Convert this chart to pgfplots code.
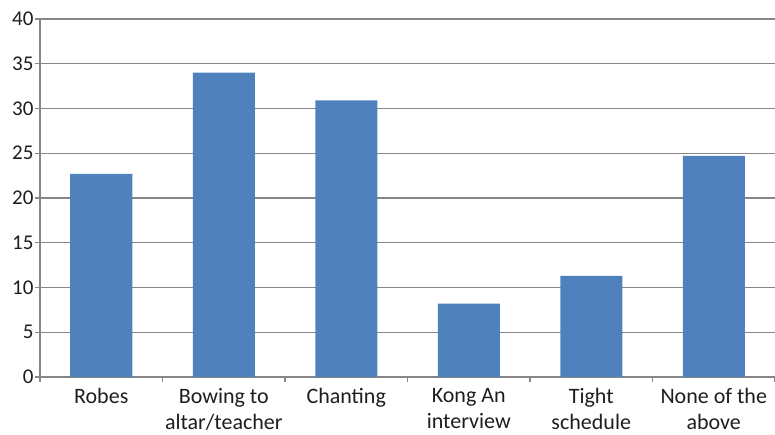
\documentclass[border=0pt]{standalone}
\usepackage{fontspec}
\setmainfont{Carlito}
\usepackage{pgfplots}
\pgfplotsset{compat=1.18}
\definecolor{barblue}{RGB}{79,129,189}
\definecolor{gridgray}{RGB}{134,134,134}
\definecolor{txt}{RGB}{30,30,30}
\begin{document}
\begin{tikzpicture}
\path[use as bounding box] (-40pt,-58pt) rectangle (735pt,377pt);
\begin{axis}[
  scale only axis,
  width=735pt, height=358pt,
  xmin=-0.5, xmax=5.5,
  ymin=0, ymax=40,
  ytick={0,5,...,40},
  xtick={0,1,2,3,4,5},
  xticklabels={Robes,{Bowing to\\altar/teacher},Chanting,{Kong An\\interview},{Tight\\schedule},{None of the\\above}},
  minor xtick={-0.5,0.5,1.5,2.5,3.5,4.5,5.5},
  major x tick style={draw=none},
  minor tick length=5pt,
  major tick length=5pt,
  tick align=outside,
  axis lines*=left,
  axis line style={gridgray, line width=1.3pt},
  every tick/.style={gridgray, line width=1.1pt},
  ymajorgrids,
  major grid style={gridgray, line width=1.3pt},
  yticklabel style={font=\fontsize{21}{25}\selectfont, text=txt, xshift=2pt},
  xticklabel style={font=\fontsize{22}{26}\selectfont, text=txt, align=center, yshift=-3pt},
  /pgf/number format/assume math mode=true,
  ybar, bar width=62pt,
  clip=false,
]
\addplot[fill=barblue, draw=none] coordinates {
  (0,22.7) (1,34.0) (2,30.9) (3,8.2) (4,11.3) (5,24.7)
};
\end{axis}
\end{tikzpicture}
\end{document}
